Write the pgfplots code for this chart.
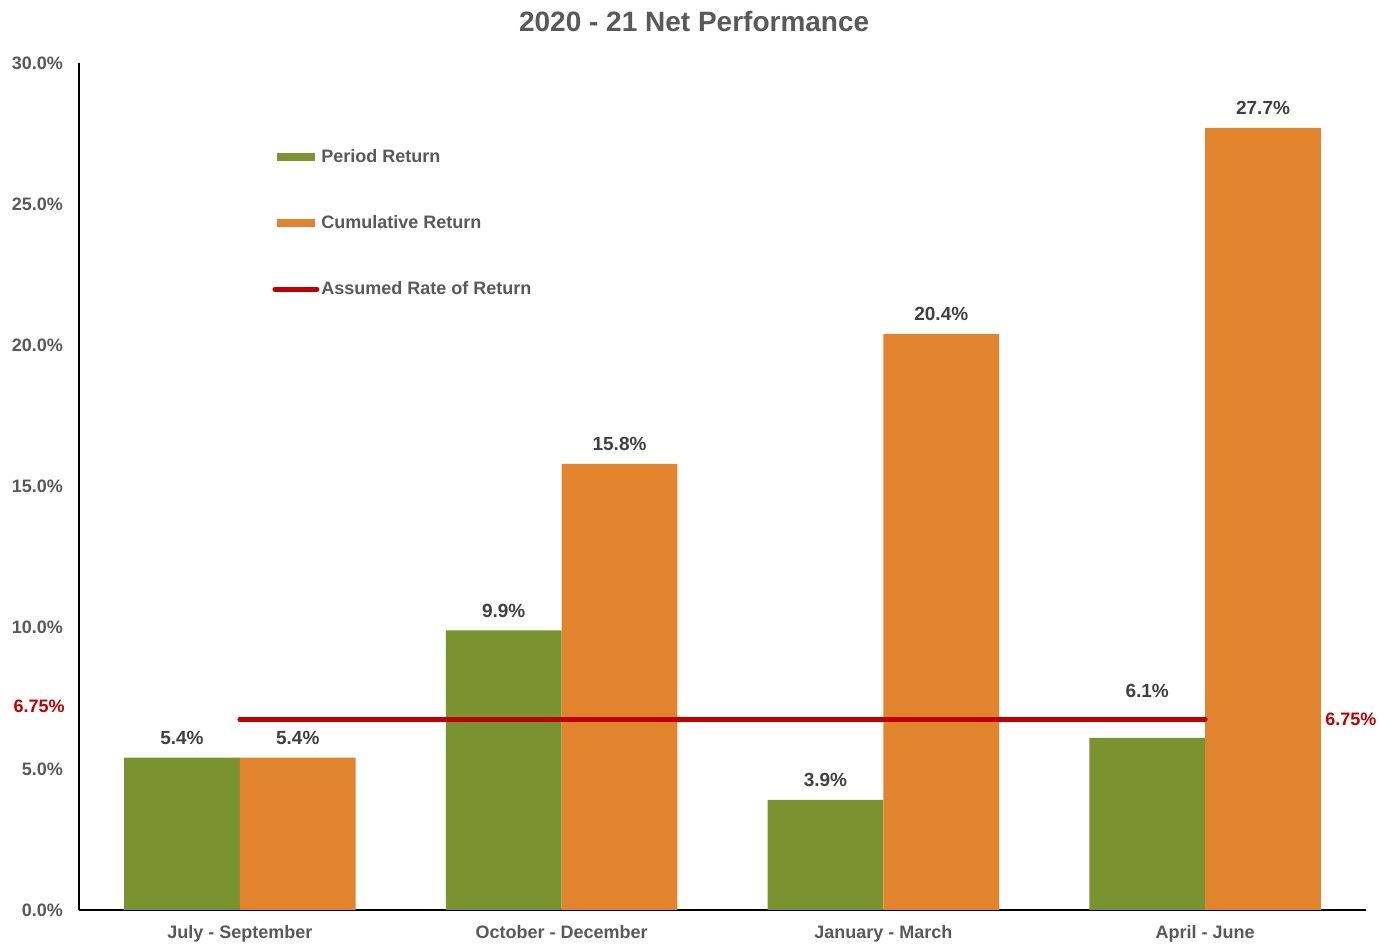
\documentclass[border=0pt]{standalone}
\usepackage{fontspec}
\setmainfont{Liberation Sans}
\usepackage{pgfplots}
\pgfplotsset{compat=1.18}
\usepackage{pgfplotstable}
\definecolor{pgreen}{HTML}{7A9230}
\definecolor{corange}{HTML}{E2842E}
\definecolor{rred}{HTML}{C00000}
\definecolor{tgray}{HTML}{595959}
\definecolor{lgray}{HTML}{404040}

\pgfplotstableread{
x y off
0 5.4 0
1 9.9 0
2 3.9 0
3 6.1 13.5
}\period
\pgfplotstableread{
x y off
0 5.4 0
1 15.8 0
2 20.4 0
3 27.7 0
}\cumul

\begin{document}
\begin{tikzpicture}
\begin{axis}[
  scale only axis, width=643.5pt, height=423.5pt,
  xmin=-0.5, xmax=3.5, ymin=0, ymax=30,
  axis x line=bottom, axis y line=left,
  axis line style={-, black, line width=0.8pt},
  xtick={0,1,2,3},
  xticklabels={July - September, October - December, January - March, April - June},
  ytick={0,5,...,30},
  major tick length=0pt,
  /pgf/number format/assume math mode=true,
  yticklabel={\pgfmathprintnumber[fixed,fixed zerofill,precision=1]{\tick}\%},
  ticklabel style={font=\bfseries\fontsize{9}{10}\selectfont, text=tgray},
  yticklabel style={xshift=-4.5pt},
  xticklabel style={yshift=-4pt},
  title={2020 - 21 Net Performance},
  title style={at={(0.478,1)}, anchor=center, yshift=14.5pt, font=\bfseries\fontsize{14}{16}\selectfont, text=tgray},
  clip=false,
  legend style={draw=none, fill=none, inner sep=0pt, at={(0.150,0.902)}, anchor=north west,
    row sep=22pt, font=\bfseries\fontsize{9}{10}\selectfont, text=tgray,
    nodes={text height=7pt, text depth=2pt, inner sep=1pt}},
  legend cell align=left,
  nodes near coords style={font=\bfseries\fontsize{9.5}{11}\selectfont, text=lgray},
]
\addplot[fill=pgreen, draw=none, ybar, bar width=0.36, bar shift=0pt,
  legend image code/.code={\fill[pgreen] (0pt,-2pt) rectangle (19pt,2pt);},
  visualization depends on={\thisrow{off} \as \offset},
  nodes near coords={\pgfmathprintnumber[fixed,fixed zerofill,precision=1]{\pgfplotspointmeta}\%},
  every node near coord/.append style={yshift=3pt+\offset pt}]
  table[x expr=\thisrow{x}-0.18, y=y] {\period};
\addlegendentry{Period Return}
\addplot[fill=corange, draw=none, ybar, bar width=0.36, bar shift=0pt,
  legend image code/.code={\fill[corange] (0pt,-2pt) rectangle (19pt,2pt);},
  nodes near coords={\pgfmathprintnumber[fixed,fixed zerofill,precision=1]{\pgfplotspointmeta}\%},
  every node near coord/.append style={yshift=3pt}]
  table[x expr=\thisrow{x}+0.18, y=y] {\cumul};
\addlegendentry{Cumulative Return}
\addplot[rred, line width=2.5pt, line cap=round, mark=none,
  legend image code/.code={\draw[rred, line width=2.5pt, line cap=round] (-1pt,0pt) -- (20pt,0pt);}]
  coordinates {(0,6.75) (3,6.75)};
\addlegendentry{Assumed Rate of Return}
\node[anchor=east, text=rred, font=\bfseries\fontsize{9}{10}\selectfont, inner sep=0pt, xshift=-7pt] at (axis cs:-0.5,7.23) {6.75\%};
\node[anchor=west, text=rred, font=\bfseries\fontsize{9}{10}\selectfont, inner sep=0pt, xshift=-20.5pt] at (axis cs:3.5,6.75) {6.75\%};
\coordinate (BL) at (rel axis cs:0,0);
\coordinate (TR) at (rel axis cs:1,1);
\end{axis}
\path ([shift={(-39.5pt,-16.5pt)}]BL) rectangle ([shift={(7pt,31.5pt)}]TR);
\end{tikzpicture}
\end{document}
